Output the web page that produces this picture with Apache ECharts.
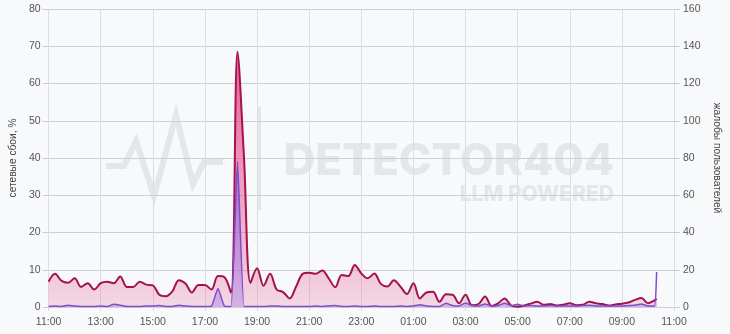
<!DOCTYPE html>
<html><head><meta charset="utf-8">
<script src="https://cdn.jsdelivr.net/npm/echarts@6/dist/echarts.min.js"></script>
<style>html,body{margin:0;padding:0;background:#f8f9fb}#c{width:730px;height:334px}</style>
</head><body><div id="c"></div>
<script>
// time labels: 15-minute samples from 11:00, last partial sample at 10:20
const START_HOUR = 11;
const STEP_MIN = 15;
const SAMPLE_COUNT = 94;
const LAST_TIME = '10:20';
const xTickLabels = ['11:00','13:00','15:00','17:00','19:00','21:00','23:00','01:00','03:00','05:00','07:00','09:00','11:00'];

// network failures, % (left axis)
const failures = [
 6.8, 8.9, 7.0, 6.5, 7.7, 5.4, 6.4, 4.7, 6.4, 6.8,
 6.4, 8.2, 5.4, 5.4, 6.8, 6.0, 5.8, 3.3, 2.9, 4.2,
 7.2, 6.3, 3.9, 5.9, 5.9, 4.7, 8.3, 8.0, 3.8, 68.5,
 40.0, 6.5, 10.4, 5.7, 8.9, 4.7, 4.0, 2.3, 5.5, 8.9,
 9.2, 8.9, 9.8, 7.7, 5.3, 8.6, 8.3, 11.3, 9.0, 7.7,
 9.0, 6.2, 5.5, 7.2, 5.5, 3.5, 6.4, 2.3, 3.9, 4.1,
 1.4, 3.4, 3.3, 1.0, 3.3, 0.5, 0.8, 2.8, 0.3, 1.0,
 2.3, 0.4, 0.1, 0.4, 0.9, 1.4, 0.6, 0.8, 0.4, 0.6,
 1.0, 0.5, 0.6, 1.4, 1.0, 0.8, 0.4, 0.7, 0.9, 1.2,
 1.9, 2.4, 1.0, 1.8, 2.2
];
// user complaints (right axis)
const complaints = [
 0.3, 0.5, 0.3, 1.0, 0.5, 0.3, 0.3, 0.3, 0.5, 0.3,
 1.5, 1.0, 0.3, 0.3, 0.3, 0.5, 0.5, 0.8, 0.3, 0.3,
 1.0, 0.5, 0.3, 0.3, 0.3, 0.5, 10.0, 0.5, 0.3, 78.0,
 0.3, 0.3, 0.3, 0.3, 0.5, 0.6, 0.3, 0.3, 0.3, 0.3,
 0.3, 0.5, 0.3, 0.6, 0.8, 0.3, 0.3, 0.5, 0.3, 0.3,
 0.5, 0.3, 0.3, 0.3, 0.5, 0.3, 0.5, 1.2, 0.5, 0.3,
 0.3, 2.0, 0.8, 0.5, 2.2, 0.8, 0.5, 1.6, 0.5, 0.8,
 2.0, 0.8, 1.5, 0.5, 0.8, 0.5, 0.5, 0.8, 0.5, 0.5,
 0.5, 0.5, 0.8, 1.0, 0.5, 0.5, 0.5, 0.5, 0.5, 0.8,
 1.0, 1.6, 0.5, 0.5, 18.8
];

const times = [];
for (let i = 0; i < SAMPLE_COUNT; i++) {
  const m = START_HOUR * 60 + i * STEP_MIN;
  const h = Math.floor(m / 60) % 24, mm = m % 60;
  times.push(String(h).padStart(2,'0') + ':' + String(mm).padStart(2,'0'));
}
times.push(LAST_TIME);

function toOffset(t) {
  const [h, m] = t.split(':').map(Number);
  let v = h + m / 60 - START_HOUR;
  if (v < 0) v += 24;
  return v;
}
const xs = times.map(toOffset);
const redData = xs.map((x, i) => [x, failures[i]]);
const purpleData = xs.map((x, i) => [x, complaints[i]]);

const FONT = 'Liberation Sans';
const LBL = 10.5;
const chart = echarts.init(document.getElementById('c'), null, {renderer: 'canvas'});
chart.setOption({
  backgroundColor: '#f8f9fb',
  animation: false,
  textStyle: {fontFamily: FONT},
  grid: {left: 47, right: 56, top: 9, bottom: 27},
  xAxis: {
    type: 'value', min: 0, max: 24, interval: 2,
    axisLine: {show: false},
    axisTick: {show: true, length: 4, lineStyle: {color: '#d8dadd'}},
    axisLabel: {color: '#555', fontSize: LBL, margin: 10, fontFamily: FONT,
      formatter: v => xTickLabels[Math.round(v / 2)]},
    splitLine: {show: true, lineStyle: {color: '#dcdee1', width: 1}}
  },
  yAxis: [{
    type: 'value', min: 0, max: 80, interval: 10,
    name: 'сетевые сбои, %', nameLocation: 'middle', nameGap: 22, nameRotate: 90,
    nameTextStyle: {color: '#444', fontSize: 10.2, fontFamily: FONT},
    axisLine: {show: false},
    axisTick: {show: true, length: 6, lineStyle: {color: '#c9cbce'}},
    axisLabel: {color: '#555', fontSize: LBL, margin: 8, fontFamily: FONT},
    splitLine: {show: true, lineStyle: {color: '#cdd0d3', width: 1}}
  }, {
    type: 'value', min: 0, max: 160, interval: 20, position: 'right',
    name: 'жалобы пользователей', nameLocation: 'middle', nameGap: 30, nameRotate: -90,
    nameTextStyle: {color: '#444', fontSize: 10.2, fontFamily: FONT},
    axisLine: {show: false},
    axisTick: {show: true, length: 6, lineStyle: {color: '#c9cbce'}},
    axisLabel: {color: '#555', fontSize: LBL, margin: 9, fontFamily: FONT},
    splitLine: {show: false}
  }],
  graphic: [
    {type: 'polyline', z: -10, silent: true,
     shape: {points: [[106,166],[124,166],[136,141],[154,196],[176,115],[193,184],[204,162],[223,162]]},
     style: {stroke: '#e4e6ea', lineWidth: 6, fill: null, lineJoin: 'miter'}},
    {type: 'rect', z: -10, silent: true, shape: {x: 257, y: 107, width: 4, height: 103}, style: {fill: '#e4e6ea'}},
    {type: 'text', z: -10, silent: true, x: 614, y: 162,
     style: {text: 'DETECTOR404', fill: '#e4e6ea', fontFamily: 'Inter', fontWeight: 800, fontSize: 44, align: 'right', verticalAlign: 'middle'}},
    {type: 'text', z: -10, silent: true, x: 614, y: 195,
     style: {text: 'LLM POWERED', fill: '#e4e6ea', fontFamily: 'Inter', fontWeight: 800, fontSize: 21, align: 'right', verticalAlign: 'middle'}}
  ],
  series: [{
    name: 'сетевые сбои, %', type: 'line', yAxisIndex: 0, data: redData,
    smooth: 0.35, showSymbol: false,
    lineStyle: {color: '#a3124c', width: 2},
    itemStyle: {color: '#a3124c'},
    areaStyle: {opacity: 1, color: new echarts.graphic.LinearGradient(0, 0, 0, 1, [
      {offset: 0, color: 'rgba(232, 70, 135, 0.88)'},
      {offset: 0.82, color: 'rgba(228, 85, 145, 0.34)'},
      {offset: 1, color: 'rgba(228, 95, 150, 0.22)'}
    ])}
  }, {
    name: 'жалобы пользователей', type: 'line', yAxisIndex: 1, data: purpleData,
    smooth: 0.15, showSymbol: false,
    lineStyle: {color: '#7b4ccc', width: 1.5},
    itemStyle: {color: '#7b4ccc'},
    areaStyle: {opacity: 1, color: new echarts.graphic.LinearGradient(0, 0, 0, 1, [
      {offset: 0, color: 'rgba(150, 90, 215, 0.75)'},
      {offset: 1, color: 'rgba(175, 130, 225, 0.45)'}
    ])}
  }]
});
</script></body></html>
